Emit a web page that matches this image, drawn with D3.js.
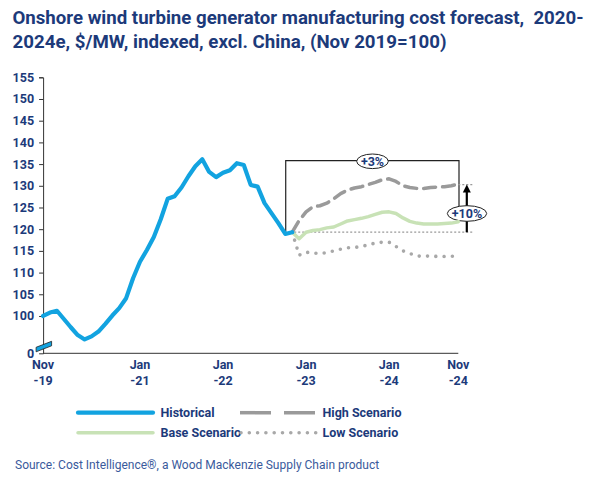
<!DOCTYPE html>
<html>
<head>
<meta charset="utf-8">
<script src="https://cdn.jsdelivr.net/npm/d3@7"></script>
<style>
  body { margin: 0; background: #fff; }
  text { font-family: Roboto, "Noto Sans", sans-serif; }
  .title { white-space: pre; }
</style>
</head>
<body>
<div id="chart"></div>
<script>
// month index 0 = Nov 2019, 60 = Nov 2024
const historical = [100, 100.8, 101.2, 99.3, 97.4, 95.6, 94.6, 95.3, 96.4, 98.2,
    100.1, 101.8, 104.1, 108.7, 112.5, 115.2, 118.2, 122.3, 127.0, 127.6,
    129.6, 132.2, 134.5, 136.1, 133.2, 132.0, 133.0, 133.6, 135.2, 134.8,
    130.2, 129.8, 126.0, 123.7, 121.4, 118.9, 119.3];
// scenarios start at month 36 (Nov 2022)
const scenarioStart = 36;
const highScenario = [119.3, 122.0, 124.0, 125.2, 125.4, 126.0, 127.0, 128.2, 129.0, 129.5,
    129.8, 130.3, 130.8, 131.4, 131.6, 131.0, 130.0, 129.6, 129.4, 129.4,
    129.6, 129.7, 129.8, 130.0, 130.4];
const baseScenario = [119.3, 117.8, 119.3, 119.7, 119.9, 120.3, 120.5, 121.2, 121.9, 122.2,
    122.5, 122.9, 123.4, 123.9, 124.0, 123.6, 122.6, 121.8, 121.4, 121.2,
    121.2, 121.2, 121.3, 121.4, 121.7];
const lowScenario = [119.3, 114.0, 114.7, 114.5, 114.4, 114.6, 115.0, 115.4, 115.7, 115.8,
    116.0, 116.4, 116.8, 117.0, 117.0, 116.0, 115.0, 114.4, 113.8, 113.8,
    113.8, 113.7, 113.7, 113.7, 114.1];

const xTickMonths = [0, 14, 26, 38, 50, 60];
const xTickLabels = [["Nov", "-19"], ["Jan", "-21"], ["Jan", "-22"], ["Jan", "-23"], ["Jan", "-24"], ["Nov", "-24"]];
const yTicks = [100, 105, 110, 115, 120, 125, 130, 135, 140, 145, 150, 155];
const yMin = 91.4; // axis is broken, bottom label reads 0

const titleLines = ["Onshore wind turbine generator manufacturing cost forecast,  2020-",
    "2024e, $/MW, indexed, excl. China, (Nov 2019=100)"];
const legendItems = [
    { name: "Historical", key: "hist" },
    { name: "High Scenario", key: "high" },
    { name: "Base Scenario", key: "base" },
    { name: "Low Scenario", key: "low" }
];
const sourceText = "Source: Cost Intelligence®, a Wood Mackenzie Supply Chain product";

const navy = "#1c3a7a";
const styles = {
    hist: { color: "#12a3e0", width: 4.2, dash: null, cap: "round" },
    high: { color: "#9a9a9a", width: 3.5, dash: "12,7", cap: "round" },
    base: { color: "#c8e2b6", width: 3.5, dash: null, cap: "round" },
    low:  { color: "#a8a8a8", width: 3.6, dash: "0,8.3", cap: "round" }
};

const width = 602, height = 480;
const svg = d3.select("#chart").append("svg")
    .attr("width", width)
    .attr("height", height);

// title
svg.selectAll(".title")
    .data(titleLines)
    .enter().append("text")
    .attr("class", "title")
    .attr("x", 12.5)
    .attr("y", (d, i) => 24 + i * 24.3)
    .attr("font-size", 18.5)
    .attr("font-weight", 700)
    .attr("fill", navy)
    .attr("textLength", (d, i) => i === 0 ? 571 : 434)
    .attr("lengthAdjust", "spacingAndGlyphs")
    .text(d => d);

const x = d3.scaleLinear().domain([0, 60]).range([43.1, 458.3]);
const y = d3.scaleLinear().domain([yMin, 155]).range([353.3, 77.3]);

// y axis
const yAxis = svg.append("g")
    .attr("transform", "translate(" + x(0) + ",0)")
    .call(d3.axisLeft(y).tickValues(yTicks.concat([yMin])).tickSize(4).tickPadding(5)
        .tickFormat(d => d === yMin ? "0" : d));
yAxis.select(".domain").attr("stroke", "#333").attr("stroke-width", 1);
yAxis.selectAll(".tick line").attr("stroke", "#333");
yAxis.selectAll(".tick").filter(d => d === yMin).select("line").remove();
yAxis.selectAll("text")
    .attr("font-family", "Roboto, sans-serif")
    .attr("font-size", 12.5)
    .attr("font-weight", 700)
    .attr("fill", navy);

// x axis
svg.append("line")
    .attr("x1", x(0)).attr("x2", x(60))
    .attr("y1", y(yMin)).attr("y2", y(yMin))
    .attr("stroke", "#333").attr("stroke-width", 1);

const xLab = svg.selectAll(".xlab")
    .data(xTickMonths)
    .enter().append("text")
    .attr("class", "xlab")
    .attr("text-anchor", "middle")
    .attr("font-size", 12.5)
    .attr("font-weight", 700)
    .attr("fill", navy);
xLab.append("tspan").attr("x", d => x(d)).attr("y", 369).text((d, i) => xTickLabels[i][0]);
xLab.append("tspan").attr("x", d => x(d)).attr("y", 385).text((d, i) => xTickLabels[i][1]);

// axis break marker
const bx = x(0), by = y(yMin) - 5.5;
svg.append("polygon")
    .attr("points", [[bx - 7, by + 4], [bx + 8.5, by - 2], [bx + 8.5, by - 6.5], [bx - 7, by - 0.5]].join(" "))
    .attr("fill", styles.hist.color)
    .attr("stroke", "#222")
    .attr("stroke-width", 0.8);

// lines
const line = d3.line().x(d => x(d[0])).y(d => y(d[1])).curve(d3.curveLinear);
const seriesData = {
    hist: historical.map((v, i) => [i, v]),
    high: highScenario.map((v, i) => [scenarioStart + i, v]),
    base: baseScenario.map((v, i) => [scenarioStart + i, v]),
    low: lowScenario.map((v, i) => [scenarioStart + i, v])
};

// annotation: bracket and reference dotted line
const startV = historical[historical.length - 1];
const bracketY = 160.7;
const ann = svg.append("g");
ann.append("path")
    .attr("d", "M" + (x(scenarioStart) - 6.5) + "," + y(startV) + "V" + bracketY + "H" + (x(60) + 0.7) + "V" + 207)
    .attr("fill", "none")
    .attr("stroke", "#222")
    .attr("stroke-width", 1.2);
ann.append("line")
    .attr("x1", x(scenarioStart) - 2).attr("x2", x(60) + 14)
    .attr("y1", y(startV)).attr("y2", y(startV))
    .attr("stroke", "#999").attr("stroke-width", 1.3)
    .attr("stroke-dasharray", "2,2");
ann.append("line")
    .attr("x1", x(60)).attr("x2", x(60) + 14)
    .attr("y1", y(highScenario[highScenario.length - 1]) + 0.5)
    .attr("y2", y(highScenario[highScenario.length - 1]) + 0.5)
    .attr("stroke", "#999").attr("stroke-width", 1.3)
    .attr("stroke-dasharray", "2,2");

["low", "base", "high", "hist"].forEach(k => {
    svg.append("path")
        .datum(seriesData[k])
        .attr("d", line)
        .attr("fill", "none")
        .attr("stroke", styles[k].color)
        .attr("stroke-width", styles[k].width)
        .attr("stroke-linecap", styles[k].cap)
        .attr("stroke-linejoin", "round")
        .attr("stroke-dasharray", styles[k].dash);
});

// arrow
const arrowX = x(60) + 8.5;
const arrowTop = y(highScenario[highScenario.length - 1]) + 0.5;
ann.append("line")
    .attr("x1", arrowX).attr("x2", arrowX)
    .attr("y1", y(startV)).attr("y2", arrowTop + 6)
    .attr("stroke", "#000").attr("stroke-width", 2.2);
ann.append("path")
    .attr("d", "M" + (arrowX - 4) + "," + (arrowTop + 8) + "L" + arrowX + "," + arrowTop + "L" + (arrowX + 4) + "," + (arrowTop + 8) + "Z")
    .attr("fill", "#000");

// labels in ellipses
const bubbles = [
    { text: "+3%", cx: 372.5, cy: bracketY + 0.6, rx: 15.8, ry: 7.3 },
    { text: "+10%", cx: 467, cy: 213.5, rx: 19.7, ry: 7.8 }
];
const bub = ann.selectAll(".bub").data(bubbles).enter().append("g");
bub.append("ellipse")
    .attr("cx", d => d.cx).attr("cy", d => d.cy)
    .attr("rx", d => d.rx).attr("ry", d => d.ry)
    .attr("fill", "#fff").attr("stroke", "#222").attr("stroke-width", 1);
bub.append("text")
    .attr("x", d => d.cx).attr("y", d => d.cy + 4.3)
    .attr("text-anchor", "middle")
    .attr("font-size", 12.5)
    .attr("font-weight", 700)
    .attr("fill", navy)
    .text(d => d.text);

// legend
const legendPos = {
    hist: { x: 78, y: 412.7 },
    high: { x: 240, y: 412.7 },
    base: { x: 78, y: 432.7 },
    low: { x: 240, y: 432.7 }
};
const legendDash = { hist: null, high: "31,13", base: null, low: "0,8.3" };
const lg = svg.selectAll(".lg").data(legendItems).enter().append("g");
lg.append("line")
    .attr("x1", d => legendPos[d.key].x + (d.key === "low" ? 1 : 0))
    .attr("x2", d => legendPos[d.key].x + (d.key === "hist" || d.key === "base" ? 75 : 76))
    .attr("y1", d => legendPos[d.key].y).attr("y2", d => legendPos[d.key].y)
    .attr("stroke", d => styles[d.key].color)
    .attr("stroke-width", d => styles[d.key].width)
    .attr("stroke-linecap", d => d.key === "high" ? "butt" : "round")
    .attr("stroke-dasharray", d => legendDash[d.key]);
lg.append("text")
    .attr("x", d => legendPos[d.key].x + 82.5)
    .attr("y", d => legendPos[d.key].y + 4.5)
    .attr("font-size", 12.5)
    .attr("font-weight", 700)
    .attr("fill", navy)
    .text(d => d.name);

// source
svg.append("text")
    .attr("x", 15)
    .attr("y", 469)
    .attr("font-size", 12)
    .attr("fill", "#3a5a9c")
    .text(sourceText);
</script>
</body>
</html>
